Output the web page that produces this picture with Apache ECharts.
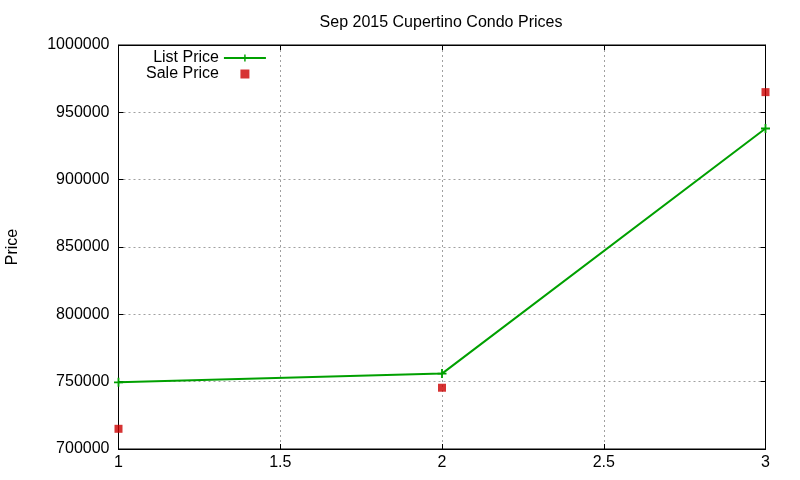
<!DOCTYPE html>
<html>
<head>
<meta charset="utf-8">
<script src="https://cdn.jsdelivr.net/npm/echarts@6/dist/echarts.min.js"></script>
<style>html,body{margin:0;padding:0;background:#fff}#c{width:800px;height:480px}</style>
</head>
<body>
<div id="c"></div>
<script>
var xValues = [1, 2, 3];
var listPrice = [749500, 756000, 938000];
var salePrice = [715000, 745500, 965000];
var seriesNames = ['List Price', 'Sale Price'];
var titleText = 'Sep 2015 Cupertino Condo Prices';
var yName = 'Price';

var font = 'Liberation Sans, Arial, sans-serif';
var plusPath = 'path://M4 0h2v4h4v2h-4v4h-2v-4h-4v-2h4z';
var chart = echarts.init(document.getElementById('c'), null, {renderer: 'canvas'});
var gridLine = {show: true, lineStyle: {color: '#a0a0a0', type: [2, 3], width: 1}};
chart.setOption({
  animation: false,
  backgroundColor: '#fff',
  title: {text: titleText, left: 436, top: 10, textAlign: 'center',
    textStyle: {fontFamily: font, fontSize: 16, fontWeight: 'normal', color: '#000'}},
  grid: {left: 118.5, right: 34.5, top: 45, bottom: 31, show: true, borderColor: '#000', borderWidth: 1,
    containLabel: false, outerBoundsMode: 'none'},
  legend: {
    orient: 'vertical', left: 141, top: 45, align: 'right', itemGap: 0,
    itemWidth: 42, itemHeight: 9,
    textStyle: {fontFamily: font, fontSize: 16, color: '#000', lineHeight: 14},
    data: [
      {name: seriesNames[0]},
      {name: seriesNames[1], icon: 'path://M0 0h10v10h-10z'}
    ]
  },
  xAxis: [{
    type: 'value', min: 1, max: 3, interval: 0.5,
    axisLine: {show: true, lineStyle: {color: '#000'}},
    axisTick: {show: true, inside: true, length: 5, lineStyle: {color: '#000'}},
    axisLabel: {color: '#000', fontFamily: font, fontSize: 16, margin: 6,
      formatter: function (v) { return String(v); }},
    splitLine: gridLine
  }, {
    type: 'value', min: 1, max: 3, interval: 0.5, position: 'top',
    axisLine: {show: true, lineStyle: {color: '#000'}},
    axisTick: {show: true, inside: true, length: 5, lineStyle: {color: '#000'}},
    axisLabel: {show: false}, splitLine: {show: false}
  }],
  yAxis: [{
    type: 'value', min: 700000, max: 1000000, interval: 50000,
    name: yName, nameLocation: 'middle', nameGap: 98, nameRotate: 90,
    nameTextStyle: {color: '#000', fontFamily: font, fontSize: 16},
    axisLine: {show: true, lineStyle: {color: '#000'}},
    axisTick: {show: true, inside: true, length: 5, lineStyle: {color: '#000'}},
    axisLabel: {color: '#000', fontFamily: font, fontSize: 16, margin: 9,
      formatter: function (v) { return String(v); }},
    splitLine: gridLine
  }, {
    type: 'value', min: 700000, max: 1000000, interval: 50000, position: 'right',
    axisLine: {show: true, lineStyle: {color: '#000'}},
    axisTick: {show: true, inside: true, length: 5, lineStyle: {color: '#000'}},
    axisLabel: {show: false}, splitLine: {show: false}
  }],
  series: [{
    name: seriesNames[0], type: 'line',
    data: xValues.map(function (x, i) { return [x, listPrice[i]]; }),
    symbol: plusPath, symbolSize: 9, showSymbol: true,
    itemStyle: {color: '#00a000'},
    lineStyle: {color: '#00a000', width: 2},
    clip: false, z: 3
  }, {
    name: seriesNames[1], type: 'scatter',
    data: xValues.map(function (x, i) { return [x, salePrice[i]]; }),
    symbol: 'rect', symbolSize: 8,
    itemStyle: {color: '#cc0000'},
    clip: false, z: 4
  }]
});
</script>
</body>
</html>
